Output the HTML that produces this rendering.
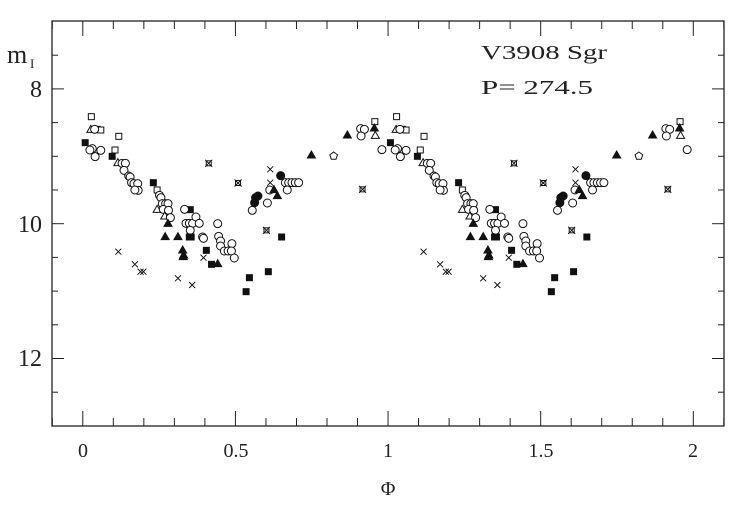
<!DOCTYPE html>
<html><head><meta charset="utf-8"><style>
html,body{margin:0;padding:0;background:#fff;}
svg{display:block;}
text{font-family:"Liberation Serif",serif;fill:#222;}
</style></head><body>
<svg id="s" width="742" height="513" viewBox="0 0 742 513" xmlns="http://www.w3.org/2000/svg">
<rect x="52" y="21" width="672" height="405" fill="none" stroke="#222" stroke-width="1.3"/>
<g id="ticks" stroke="#222" stroke-width="1"></g>
<g id="pts" stroke="#111" stroke-width="1" fill="none"></g>
<text x="7" y="63" font-size="26">m</text><text x="30" y="68" font-size="13">I</text>
<text x="481" y="59" font-size="20" textLength="126" lengthAdjust="spacingAndGlyphs">V3908 Sgr</text>
<text x="481" y="94" font-size="20" textLength="112" lengthAdjust="spacingAndGlyphs">P= 274.5</text>
<g font-size="24" text-anchor="end">
<text x="42" y="97">8</text><text x="42" y="232">10</text><text x="42" y="366">12</text>
</g>
<g font-size="20" text-anchor="middle">
<text x="83" y="457">0</text><text x="236" y="457">0.5</text><text x="388" y="457">1</text><text x="541" y="457">1.5</text><text x="693" y="457">2</text>
<text x="388" y="495">Φ</text>
</g>
</svg>
<script>
var NS="http://www.w3.org/2000/svg";
function el(p,t,a){var e=document.createElementNS(NS,t);for(var k in a)e.setAttribute(k,a[k]);p.appendChild(e);return e;}
var T=document.getElementById('ticks');
function X(ph){return 82.8+ph*305.25;}
function Y(m){return 21.5+(m-7)*67.4;}
for(var i=-1;i<=21;i++){var ph=i/10,x=X(ph);if(x<=52||x>=724)continue;var L=(i%5==0)?15:8;
el(T,'line',{x1:x,y1:21,x2:x,y2:21+L});el(T,'line',{x1:x,y1:426,x2:x,y2:426-L});}
for(var m=7.5;m<13;m+=0.5){var y=Y(m),L=(m%2==0)?12:6;
el(T,'line',{x1:52,y1:y,x2:52+L,y2:y});el(T,'line',{x1:724,y1:y,x2:724-L,y2:y});}
var D=[
['os',193,347],['ot',192,385],['os',205,385],['os',213,387],['oc',200,385],['os',251,406],
['fs',180,425],['oc',195,443],['oc',213,448],['oc',201,467],['oc',190,447],['os',243,447],['fs',237,466],
['ot',249,485],['oc',258,487],['oc',265,487],['oc',262,508],['oc',272,525],['oc',275,528],['oc',278,545],['oc',283,548],['oc',291,548],['oc',292,568],['oc',285,567],
['fs',324,545],['os',332,567],['oc',337,583],['oc',340,590],['oc',343,608],['oc',350,608],['oc',355,608],['ot',332,625],['oc',345,625],['oc',356,628],['ot',348,645],['oc',360,650],['ft',355,667],
['fs',402,626],['oc',390,625],['oc',393,667],['oc',400,667],['oc',407,667],['oc',414,648],['oc',421,667],['oc',402,688],['fs',400,708],['oc',428,708],['oc',430,712],
['ft',349,707],['ft',376,707],['fs',404,708],['ft',386,747],['ft',387,767],['ft',388,762],
['fs',436,748],['x',430,770],['fs',447,790],['ft',460,788],
['oc',460,668],['oc',462,706],['oc',466,720],['oc',466,735],['oc',474,750],['oc',482,750],['oc',490,728],['oc',489,750],['oc',495,771],
['x',250,752],['x',285,790],['x',297,812],['x',303,812],['x',376,832],['x',406,852],
['fs',527,830],['fs',520,872],['fs',567,812],['fs',595,708],
['st',441,487],['st',503,546],['st',563,688],
['oc',533,628],['fc',538,605],['fc',540,590],['fc',545,585],['oc',565,606],
['x',571,505],['x',571,545],['oc',570,567],['ft',586,584],['ft',579,566],
['fc',593,524],['oc',603,545],['oc',610,545],['oc',617,545],['oc',624,545],['oc',631,545],['oc',607,567],
['ft',658,462],['op',705,465],['st',766,565],
['ft',734,402],['oc',762,383],['oc',770,385],['oc',763,405],['ot',793,403],['os',792,362],['ft',791,381],['oc',807,446]
];
var P=document.getElementById('pts');
function draw(t,x,y){
 if(t=='os'||t=='fs')el(P,'rect',{x:x-3,y:y-3,width:6,height:6,fill:t=='fs'?'#111':'#fff'});
 else if(t=='oc'||t=='fc')el(P,'circle',{cx:x,cy:y,r:4,fill:t=='fc'?'#111':'#fff'});
 else if(t=='ot'||t=='ft')el(P,'polygon',{points:(x-4)+','+(y+3)+' '+(x+4)+','+(y+3)+' '+x+','+(y-4),fill:t=='ft'?'#111':'#fff'});
 else if(t=='x'){el(P,'path',{d:'M'+(x-3)+' '+(y-3)+'L'+(x+3)+' '+(y+3)+'M'+(x+3)+' '+(y-3)+'L'+(x-3)+' '+(y+3)});}
 else if(t=='st'){el(P,'rect',{x:x-2.5,y:y-2.5,width:5,height:5,fill:'#fff'});el(P,'path',{d:'M'+(x-3.5)+' '+(y-3.5)+'L'+(x+3.5)+' '+(y+3.5)+'M'+(x+3.5)+' '+(y-3.5)+'L'+(x-3.5)+' '+(y+3.5)});}
 else if(t=='op'){var s='';for(var k=0;k<5;k++){var a=-Math.PI/2+k*2*Math.PI/5;s+=(x+4*Math.cos(a))+','+(y+4*Math.sin(a))+' ';}el(P,'polygon',{points:s,fill:'#fff'});}
}
for(var c=0;c<2;c++)D.forEach(function(d){var zx=d[1]+c*645;draw(d[0],zx/2.113,21+(d[2]-60)/3);});
</script>
</body></html>
